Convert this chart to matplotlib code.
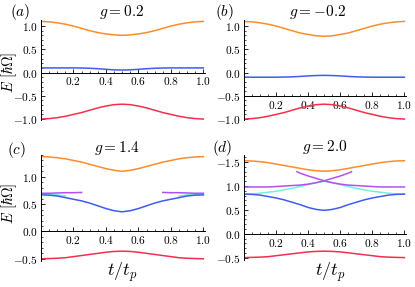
import matplotlib
matplotlib.use('Agg')
import matplotlib.pyplot as plt
from matplotlib.ticker import MultipleLocator

plt.rcParams['mathtext.fontset'] = 'cm'
plt.rcParams['font.family'] = 'DejaVu Serif'

t = [0.0, 0.05, 0.1, 0.15, 0.2, 0.25, 0.3, 0.35, 0.4, 0.45, 0.5,
     0.55, 0.6, 0.65, 0.7, 0.75, 0.8, 0.85, 0.9, 0.95, 1.0]

# (a) g = 0.2
a_orange = [1.10, 1.09, 1.07, 1.04, 1.00, 0.95, 0.90, 0.86, 0.83, 0.81, 0.80,
            0.81, 0.83, 0.86, 0.90, 0.95, 1.00, 1.04, 1.07, 1.09, 1.10]
a_blue = [0.10, 0.10, 0.10, 0.10, 0.10, 0.097, 0.092, 0.083, 0.07, 0.058, 0.054,
          0.058, 0.07, 0.083, 0.092, 0.097, 0.10, 0.10, 0.10, 0.10, 0.10]
a_red = [-1.00, -0.99, -0.97, -0.94, -0.90, -0.86, -0.81, -0.76, -0.72, -0.69, -0.68,
         -0.69, -0.72, -0.76, -0.81, -0.86, -0.90, -0.94, -0.97, -0.99, -1.00]

# (b) g = -0.2
b_orange = [1.10, 1.09, 1.07, 1.04, 1.00, 0.95, 0.90, 0.85, 0.82, 0.79, 0.78,
            0.79, 0.82, 0.85, 0.90, 0.95, 1.00, 1.04, 1.07, 1.09, 1.10]
b_blue = [-0.10, -0.10, -0.10, -0.10, -0.10, -0.097, -0.092, -0.083, -0.072, -0.064, -0.06,
          -0.064, -0.072, -0.083, -0.092, -0.097, -0.10, -0.10, -0.10, -0.10, -0.10]
b_red = [-1.00, -0.99, -0.97, -0.94, -0.90, -0.86, -0.81, -0.76, -0.72, -0.69, -0.68,
         -0.69, -0.72, -0.76, -0.81, -0.86, -0.90, -0.94, -0.97, -0.99, -1.00]

# (c) g = 1.4
c_orange = [1.37, 1.365, 1.35, 1.33, 1.30, 1.27, 1.23, 1.19, 1.15, 1.12, 1.10,
            1.12, 1.15, 1.19, 1.23, 1.27, 1.30, 1.33, 1.35, 1.365, 1.37]
c_blue = [0.67, 0.665, 0.65, 0.62, 0.59, 0.56, 0.52, 0.47, 0.42, 0.38, 0.36,
          0.38, 0.42, 0.47, 0.52, 0.56, 0.59, 0.62, 0.65, 0.665, 0.67]
c_red = [-0.50, -0.495, -0.49, -0.48, -0.46, -0.44, -0.42, -0.40, -0.38, -0.365, -0.36,
         -0.365, -0.38, -0.40, -0.42, -0.44, -0.46, -0.48, -0.49, -0.495, -0.50]
c_t_purple_l = [0.0, 0.05, 0.1, 0.15, 0.2, 0.25]
c_purple_l = [0.70, 0.70, 0.705, 0.71, 0.71, 0.715]
c_t_purple_r = [0.75, 0.8, 0.85, 0.9, 0.95, 1.0]
c_purple_r = [0.715, 0.71, 0.71, 0.705, 0.70, 0.70]
c_t_cyan_l = [0.0, 0.05, 0.1, 0.15]
c_cyan_l = [0.685, 0.68, 0.67, 0.65]
c_t_cyan_r = [0.85, 0.9, 0.95, 1.0]
c_cyan_r = [0.65, 0.67, 0.68, 0.685]

# (d) g = 2.0
d_orange = [1.53, 1.525, 1.51, 1.49, 1.46, 1.43, 1.40, 1.37, 1.34, 1.32, 1.31,
            1.32, 1.34, 1.37, 1.40, 1.43, 1.46, 1.49, 1.51, 1.525, 1.53]
d_blue = [0.83, 0.825, 0.81, 0.78, 0.75, 0.71, 0.66, 0.61, 0.55, 0.51, 0.49,
          0.51, 0.55, 0.61, 0.66, 0.71, 0.75, 0.78, 0.81, 0.825, 0.83]
d_red = [-0.50, -0.495, -0.49, -0.48, -0.46, -0.44, -0.42, -0.40, -0.38, -0.37, -0.365,
         -0.37, -0.38, -0.40, -0.42, -0.44, -0.46, -0.48, -0.49, -0.495, -0.50]
d_cyan = [0.83, 0.835, 0.85, 0.87, 0.89, 0.92, 0.95, 0.99, 1.03, 1.07, 1.10,
          1.07, 1.03, 0.99, 0.95, 0.92, 0.89, 0.87, 0.85, 0.835, 0.83]
d_t_purple_a = [0.0, 0.05, 0.1, 0.15, 0.2, 0.25, 0.3, 0.35, 0.4, 0.45, 0.5,
                0.55, 0.6, 0.65, 0.67]
d_purple_a = [0.98, 0.98, 0.98, 0.98, 0.99, 1.0, 1.01, 1.02, 1.04, 1.07, 1.11,
              1.16, 1.21, 1.27, 1.30]
d_t_purple_b = [0.33, 0.35, 0.4, 0.45, 0.5, 0.55, 0.6, 0.65, 0.7, 0.75, 0.8,
                0.85, 0.9, 0.95, 1.0]
d_purple_b = [1.30, 1.27, 1.21, 1.16, 1.11, 1.07, 1.04, 1.02, 1.01, 1.0, 0.99,
              0.98, 0.98, 0.98, 0.98]

orange = '#ff8c2a'
blue = '#3f5cf2'
red = '#f2304e'
purple = '#b44ff2'
cyan = '#74f0d6'

W, H = 415, 287
fig = plt.figure(figsize=(W / 100, H / 100), dpi=100)


def panel(x0, x1, y0, y1, ylim, yticks, ylabels, xaxis_at):
    ax = fig.add_axes([x0 / W, 1 - y1 / H, (x1 - x0) / W, (y1 - y0) / H])
    ax.set_xlim(0, 1.01)
    ax.set_ylim(*ylim)
    for s in ['top', 'right']:
        ax.spines[s].set_visible(False)
    ax.spines['bottom'].set_position(('data', xaxis_at))
    ax.spines['left'].set_linewidth(0.7)
    ax.spines['bottom'].set_linewidth(0.7)
    ax.set_xticks([0.2, 0.4, 0.6, 0.8, 1.0])
    ax.set_xticklabels(['$0.2$', '$0.4$', '$0.6$', '$0.8$', '$1.0$'])
    ax.xaxis.set_minor_locator(MultipleLocator(0.05))
    ax.set_yticks(yticks)
    ax.set_yticklabels(ylabels)
    ax.yaxis.set_minor_locator(MultipleLocator(0.1))
    ax.tick_params(which='major', direction='in', length=3, width=0.6,
                   labelsize=8.2, pad=2)
    ax.tick_params(which='minor', direction='in', length=1.5, width=0.5)
    ax.patch.set_alpha(0)
    return ax


lw = 1.1

ax = panel(41, 205, 20, 120, (-1.02, 1.13), [-1.0, -0.5, 0.0, 0.5, 1.0],
           ['$-1.0$', '$-0.5$', '$0.0$', '$0.5$', '$1.0$'], 0)
ax.plot(t, a_orange, color=orange, lw=lw)
ax.plot(t, a_blue, color=blue, lw=lw)
ax.plot(t, a_red, color=red, lw=lw)

ax = panel(244, 406, 20, 120, (-1.02, 1.13), [-1.0, -0.5, 0.0, 0.5, 1.0],
           ['$-1.0$', '$-0.5$', '$0.0$', '$0.5$', '$1.0$'], -0.5)
ax.plot(t, b_orange, color=orange, lw=lw)
ax.plot(t, b_blue, color=blue, lw=lw)
ax.plot(t, b_red, color=red, lw=lw)

ax = panel(41, 205, 155, 261, (-0.54, 1.40), [-0.5, 0.0, 0.5, 1.0],
           ['$-0.5$', '$0.0$', '$0.5$', '$1.0$'], 0)
ax.plot(t, c_orange, color=orange, lw=lw)
ax.plot(c_t_cyan_l, c_cyan_l, color=cyan, lw=lw)
ax.plot(c_t_cyan_r, c_cyan_r, color=cyan, lw=lw)
ax.plot(t, c_blue, color=blue, lw=lw)
ax.plot(c_t_purple_l, c_purple_l, color=purple, lw=lw)
ax.plot(c_t_purple_r, c_purple_r, color=purple, lw=lw)
ax.plot(t, c_red, color=red, lw=lw)

ax = panel(244, 406, 155, 260, (-0.55, 1.65), [-0.5, 0.0, 0.5, 1.0, 1.5],
           ['$-0.5$', '$0.0$', '$0.5$', '$1.0$', '$-1.5$'], 0)
ax.plot(t, d_orange, color=orange, lw=lw)
ax.plot(t, d_cyan, color=cyan, lw=lw)
ax.plot(t, d_blue, color=blue, lw=lw)
ax.plot(d_t_purple_a, d_purple_a, color=purple, lw=lw)
ax.plot(d_t_purple_b, d_purple_b, color=purple, lw=lw)
ax.plot(t, d_red, color=red, lw=lw)

# panel letters and titles
fs_t = 11
fig.text(20 / W, 1 - 12 / H, '$(a)$', fontsize=fs_t, ha='center', va='center')
fig.text(122 / W, 1 - 12 / H, '$g = 0.2$', fontsize=fs_t, ha='center', va='center')
fig.text(224 / W, 1 - 12 / H, '$(b)$', fontsize=fs_t, ha='center', va='center')
fig.text(318 / W, 1 - 12 / H, '$g = -0.2$', fontsize=fs_t, ha='center', va='center')
fig.text(17 / W, 1 - 150 / H, '$(c)$', fontsize=fs_t, ha='center', va='center')
fig.text(117 / W, 1 - 148 / H, '$g = 1.4$', fontsize=fs_t, ha='center', va='center')
fig.text(222 / W, 1 - 148 / H, '$(d)$', fontsize=fs_t, ha='center', va='center')
fig.text(325 / W, 1 - 147 / H, '$g = 2.0$', fontsize=fs_t, ha='center', va='center')

# axis labels
fig.text(9 / W, 1 - 72 / H, r'$E\ [\hbar\Omega]$', fontsize=10.5, rotation=90,
         ha='center', va='center')
fig.text(9 / W, 1 - 203 / H, r'$E\ [\hbar\Omega]$', fontsize=10.5, rotation=90,
         ha='center', va='center')
fig.text(122 / W, 1 - 272 / H, '$t/t_p$', fontsize=13, ha='center', va='center')
fig.text(330 / W, 1 - 272 / H, '$t/t_p$', fontsize=13, ha='center', va='center')

fig.savefig('out.png', dpi=100)
